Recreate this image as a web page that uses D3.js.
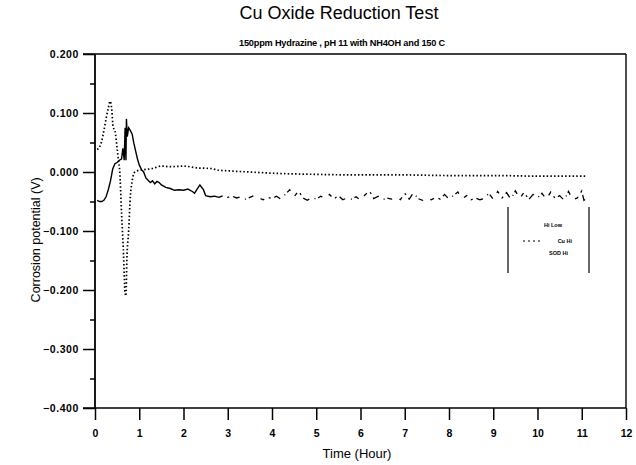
<!DOCTYPE html>
<html>
<head>
<meta charset="utf-8">
<script src="https://cdn.jsdelivr.net/npm/d3@7"></script>
<style>
  body { margin: 0; background: #fff; }
  svg { display: block; font-family: "Liberation Sans", Arial, sans-serif; }
</style>
</head>
<body>
<svg id="chart" width="636" height="465"></svg>
<script>
// ---- data ----
const title = "Cu Oxide Reduction Test";
const subtitle = "150ppm Hydrazine , pH 11 with NH4OH and  150 C";
const xLabel = "Time (Hour)";
const yLabel = "Corrosion potential (V)";
const xTicks = [0,1,2,3,4,5,6,7,8,9,10,11,12];
const yTicks = [0.2,0.1,0.0,-0.1,-0.2,-0.3,-0.4];
const yMinorTicks = [0.15,0.05,-0.05,-0.15,-0.25,-0.35];
const legendLabels = ["Hi Low", "Cu Hi", "SOD Hi"];

// dotted series (Cu Hi)
const cuTime = [0.05,0.1,0.15,0.2,0.25,0.3,0.34,0.38,0.41,0.45,0.5,0.53,0.56,0.6,0.64,0.68,0.7,0.72,0.76,0.8,0.84,0.9,1.0,1.1,1.3,1.5,1.7,2.0,2.3,2.6,2.8,3.0,3.5,4,5,6,7,8,9,10,11.1];
const cuValues = [0.038,0.042,0.052,0.07,0.09,0.108,0.12,0.105,0.076,0.07,0.04,0.02,0.0,-0.07,-0.13,-0.205,-0.21,-0.15,-0.1,-0.04,-0.015,0.0,0.003,0.004,0.006,0.01,0.009,0.01,0.007,0.006,0.003,0.002,0.0,-0.002,-0.004,-0.005,-0.005,-0.006,-0.006,-0.007,-0.007];

// solid series (Hi Low) - early part
const hiTime = [0.05,0.1,0.15,0.2,0.25,0.3,0.35,0.4,0.45,0.5,0.55,0.6,0.63,0.66,0.68,0.7,0.71,0.73,0.76,0.8,0.84,0.88,0.92,0.96,1.0,1.05,1.1,1.15,1.2,1.25,1.3,1.35,1.4,1.45,1.5,1.6,1.7,1.8,1.9,2.0,2.1,2.2,2.25,2.3,2.37,2.45,2.5,2.6,2.7,2.8];
const hiValues = [-0.048,-0.05,-0.05,-0.048,-0.042,-0.03,-0.015,0.005,0.014,0.016,0.02,0.022,0.04,0.02,0.075,0.02,0.09,0.06,0.075,0.07,0.064,0.048,0.035,0.022,0.012,0.004,0.0,-0.01,-0.014,-0.018,-0.015,-0.02,-0.016,-0.018,-0.022,-0.026,-0.028,-0.031,-0.03,-0.031,-0.029,-0.033,-0.036,-0.03,-0.022,-0.03,-0.04,-0.042,-0.041,-0.043];

// solid series (Hi Low) - late noisy part
const hiLateTime = [2.8,2.9,3.0,3.1,3.2,3.3,3.4,3.5,3.6,3.7,3.8,3.9,4.0,4.1,4.2,4.3,4.4,4.5,4.6,4.7,4.8,4.9,5.0,5.1,5.2,5.3,5.4,5.5,5.6,5.7,5.8,5.9,6.0,6.1,6.2,6.3,6.4,6.5,6.6,6.7,6.8,6.9,7.0,7.1,7.2,7.3,7.4,7.5,7.6,7.7,7.8,7.9,8.0,8.1,8.2,8.3,8.4,8.5,8.6,8.7,8.8,8.9,9.0,9.1,9.2,9.3,9.4,9.5,9.6,9.7,9.8,9.9,10.0,10.1,10.2,10.3,10.4,10.5,10.6,10.7,10.8,10.9,11.0,11.05,11.1];
const hiLateValues = [-0.043,-0.040,-0.043,-0.041,-0.044,-0.042,-0.046,-0.043,-0.040,-0.044,-0.047,-0.043,-0.045,-0.041,-0.046,-0.038,-0.030,-0.042,-0.032,-0.044,-0.048,-0.043,-0.046,-0.041,-0.045,-0.038,-0.046,-0.040,-0.047,-0.044,-0.046,-0.042,-0.048,-0.039,-0.032,-0.045,-0.041,-0.047,-0.044,-0.046,-0.043,-0.047,-0.036,-0.046,-0.035,-0.045,-0.048,-0.044,-0.047,-0.043,-0.046,-0.038,-0.046,-0.040,-0.034,-0.045,-0.040,-0.047,-0.044,-0.047,-0.045,-0.036,-0.046,-0.033,-0.044,-0.035,-0.046,-0.032,-0.045,-0.034,-0.047,-0.038,-0.044,-0.036,-0.046,-0.034,-0.045,-0.040,-0.048,-0.033,-0.047,-0.044,-0.032,-0.048,-0.045];

// ---- layout ----
const svg = d3.select("#chart");
const L = 95, R = 626, T = 54, B = 408;
const x = d3.scaleLinear().domain([0, 12]).range([L, R]);
const y = d3.scaleLinear().domain([-0.4, 0.2]).range([B, T]);

// titles
svg.append("text").attr("x", 339).attr("y", 19).attr("text-anchor", "middle")
  .attr("font-size", 18).text(title);
svg.append("text").attr("x", 342).attr("y", 46).attr("text-anchor", "middle")
  .attr("font-size", 9.2).attr("font-weight", "bold").attr("letter-spacing", -0.2).text(subtitle);

// axes
const fmt = d3.format(".3f");
const yAx = svg.append("g").attr("transform", `translate(${L},0)`)
  .call(d3.axisLeft(y).tickValues(yTicks).tickSize(12).tickPadding(4).tickFormat(fmt));
const yMin = svg.append("g").attr("transform", `translate(${L},0)`)
  .call(d3.axisLeft(y).tickValues(yMinorTicks).tickSize(5).tickFormat(""));
const xAx = svg.append("g").attr("transform", `translate(0,${B})`)
  .call(d3.axisBottom(x).tickValues(xTicks).tickSize(12).tickPadding(10).tickFormat(d3.format("d")));
[yAx, yMin, xAx].forEach(g => {
  g.select(".domain").remove();
  g.selectAll(".tick line").attr("stroke", "#000").attr("stroke-width", 1.5);
  g.selectAll(".tick text").attr("font-size", 10.5).attr("font-weight", "bold")
    .attr("fill", "#000").attr("font-family", "Liberation Sans, Arial, sans-serif");
});
yAx.selectAll(".tick text").attr("letter-spacing", 0.6);

// frame
const frame = svg.append("g").attr("stroke", "#000").attr("fill", "none");
frame.append("line").attr("x1", L).attr("x2", L).attr("y1", T).attr("y2", B).attr("stroke-width", 1.8);
frame.append("line").attr("x1", L - 12).attr("x2", R).attr("y1", B).attr("y2", B).attr("stroke-width", 1.6);
frame.append("line").attr("x1", L - 12).attr("x2", R).attr("y1", T).attr("y2", T).attr("stroke-width", 1.4);
frame.append("line").attr("x1", R).attr("x2", R).attr("y1", T).attr("y2", B).attr("stroke-width", 1.4);

// axis titles
svg.append("text").attr("x", 357).attr("y", 458).attr("text-anchor", "middle")
  .attr("font-size", 13).text(xLabel);
svg.append("text").attr("transform", `translate(40,${(y(0.02)+y(-0.25))/2}) rotate(-90)`)
  .attr("text-anchor", "middle").attr("font-size", 12.5).text(yLabel);

// lines
const line = d3.line().x(d => x(d[0])).y(d => y(d[1])).curve(d3.curveLinear);
svg.append("path").datum(d3.zip(cuTime, cuValues)).attr("d", d3.line().x(d => x(d[0])).y(d => y(d[1])).curve(d3.curveMonotoneX))
  .attr("fill", "none").attr("stroke", "#000").attr("stroke-width", 1.7)
  .attr("stroke-dasharray", "1.5,2.2");
svg.append("path").datum(d3.zip(hiTime, hiValues)).attr("d", line)
  .attr("fill", "none").attr("stroke", "#000").attr("stroke-width", 1.4);
svg.append("path").datum(d3.zip(hiLateTime, hiLateValues)).attr("d", line)
  .attr("fill", "none").attr("stroke", "#000").attr("stroke-width", 1.3)
  .attr("stroke-dasharray", "4,5,2,4,7,6,1,3,5,8");

// legend
const lg = svg.append("g");
lg.append("line").attr("x1", 508).attr("x2", 508).attr("y1", 207).attr("y2", 273).attr("stroke", "#000").attr("stroke-width", 1.2);
lg.append("line").attr("x1", 589).attr("x2", 589).attr("y1", 207).attr("y2", 273).attr("stroke", "#000").attr("stroke-width", 1.2);
const lgY = [227, 243, 255];
const lgX = [562, 572, 568];
legendLabels.forEach((t, i) => {
  lg.append("text").attr("x", lgX[i]).attr("y", lgY[i]).attr("text-anchor", "end")
    .attr("font-size", 5.5).attr("font-weight", "bold").text(t);
});
lg.append("line").attr("x1", 523).attr("x2", 541).attr("y1", 241).attr("y2", 241)
  .attr("stroke", "#000").attr("stroke-width", 1.2).attr("stroke-dasharray", "2,3");
</script>
</body>
</html>
